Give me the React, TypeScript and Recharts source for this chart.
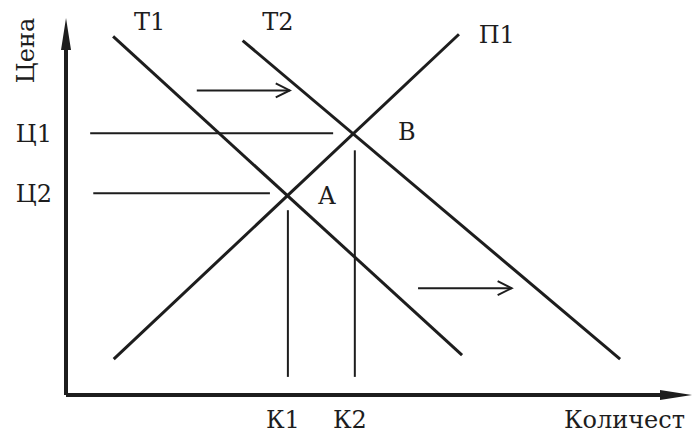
import React from 'react';
import { ComposedChart, Line, XAxis, YAxis, ReferenceLine, ReferenceDot } from 'recharts';

// кривые спроса Т1, Т2 и предложения П1 (q — количество, p — цена)
const demandT1 = [{ q: 0.76, p: 9.7 }, { q: 6.39, p: 1.08 }];
const demandT2 = [{ q: 2.85, p: 9.59 }, { q: 8.94, p: 0.97 }];
const supplyP1 = [{ q: 0.77, p: 0.97 }, { q: 6.34, p: 9.76 }];

const priceTicks = [7.08, 5.46];
const priceLabels = ['Ц1', 'Ц2'];
const quantityTicks = [3.58, 4.66];
const quantityLabels = ['К1', 'К2'];

// где начинаются и кончаются линии уровня
const priceGuideFrom = [0.39, 0.44];
const priceGuideTo = [4.31, 3.29];
const quantityGuideTop = [5.0, 6.62];
const quantityGuideBottom = [0.49, 0.49];

const shiftFrom = [2.11, 5.68];
const shiftTo = [3.61, 7.19];
const shiftPrice = [8.24, 2.89];

const markNames = ['Т1', 'Т2', 'П1', 'B', 'A'];
const markQ = [1.35, 3.42, 6.95, 5.5, 4.21];
const markP = [10.1, 10.1, 9.76, 7.14, 5.41];

const Q_MAX = 10.1;
const P_MAX = 10.2;

const INK = '#1d1d1d';
const FONT = 'DejaVu Serif';

const arrow = (len: number, half: number, filled: boolean, width: number) => (props: any) => {
  const { x1, y1, x2, y2 } = props;
  const a = Math.atan2(y2 - y1, x2 - x1);
  const bx = x2 - len * Math.cos(a);
  const by = y2 - len * Math.sin(a);
  const nx = -Math.sin(a) * half;
  const ny = Math.cos(a) * half;
  const pts = `${bx + nx},${by + ny} ${x2},${y2} ${bx - nx},${by - ny}`;
  return (
    <g>
      <line x1={x1} y1={y1} x2={filled ? bx : x2} y2={filled ? by : y2} stroke={INK} strokeWidth={width} />
      {filled ? (
        <polygon points={pts} fill={INK} />
      ) : (
        <polyline points={pts} fill="none" stroke={INK} strokeWidth={width} />
      )}
    </g>
  );
};

const textStyle = { fill: INK, fontSize: 24, fontFamily: FONT };

export default function App() {
  return (
    <div style={{ position: 'absolute', left: 0, top: 0, background: '#fff' }}>
      <ComposedChart width={696} height={435} margin={{ top: 18, right: 4, left: 0, bottom: 0 }}>
        <XAxis
          type="number"
          dataKey="q"
          domain={[0, Q_MAX]}
          ticks={quantityTicks}
          tickFormatter={(v: number) => quantityLabels[quantityTicks.indexOf(v)]}
          axisLine={false}
          tickLine={false}
          tickSize={0}
          tickMargin={16}
          height={40}
          tick={{ ...textStyle, dx: -5 }}
          label={{ value: 'Количест', position: 'insideBottomRight', offset: 7, ...textStyle }}
        />
        <YAxis
          type="number"
          dataKey="p"
          domain={[0, P_MAX]}
          ticks={priceTicks}
          tickFormatter={(v: number) => priceLabels[priceTicks.indexOf(v)]}
          axisLine={false}
          tickLine={false}
          tickSize={0}
          tickMargin={14}
          width={66}
          tick={textStyle}
        />

        {/* оси со стрелками */}
        <ReferenceLine
          segment={[{ x: 0, y: 0 }, { x: 0, y: P_MAX }]}
          ifOverflow="visible"
          shape={arrow(32, 5, true, 4)}
        />
        <ReferenceLine
          segment={[{ x: 0, y: 0 }, { x: Q_MAX, y: 0 }]}
          ifOverflow="visible"
          shape={arrow(32, 5, true, 4)}
        />

        {priceTicks.map((p, i) => (
          <ReferenceLine
            key={'pg' + i}
            segment={[{ x: priceGuideFrom[i], y: p }, { x: priceGuideTo[i], y: p }]}
            stroke={INK}
            strokeWidth={2}
            ifOverflow="visible"
          />
        ))}
        {quantityTicks.map((q, i) => (
          <ReferenceLine
            key={'qg' + i}
            segment={[{ x: q, y: quantityGuideBottom[i] }, { x: q, y: quantityGuideTop[i] }]}
            stroke={INK}
            strokeWidth={2}
            ifOverflow="visible"
          />
        ))}

        {shiftFrom.map((q, i) => (
          <ReferenceLine
            key={'sh' + i}
            segment={[{ x: q, y: shiftPrice[i] }, { x: shiftTo[i], y: shiftPrice[i] }]}
            ifOverflow="visible"
            shape={arrow(14, 7, false, 2)}
          />
        ))}

        <Line data={demandT1} dataKey="p" type="linear" stroke={INK} strokeWidth={3} dot={false} activeDot={false} isAnimationActive={false} />
        <Line data={demandT2} dataKey="p" type="linear" stroke={INK} strokeWidth={3} dot={false} activeDot={false} isAnimationActive={false} />
        <Line data={supplyP1} dataKey="p" type="linear" stroke={INK} strokeWidth={3} dot={false} activeDot={false} isAnimationActive={false} />

        {markNames.map((name, i) => (
          <ReferenceDot
            key={'m' + i}
            x={markQ[i]}
            y={markP[i]}
            r={0}
            fill="none"
            stroke="none"
            ifOverflow="visible"
            label={{ value: name, position: 'center', ...textStyle }}
          />
        ))}
        <ReferenceDot
          x={-0.66}
          y={9.32}
          r={0}
          fill="none"
          stroke="none"
          ifOverflow="visible"
          label={{ value: 'Цена', position: 'center', angle: -90, ...textStyle }}
        />
      </ComposedChart>
    </div>
  );
}
